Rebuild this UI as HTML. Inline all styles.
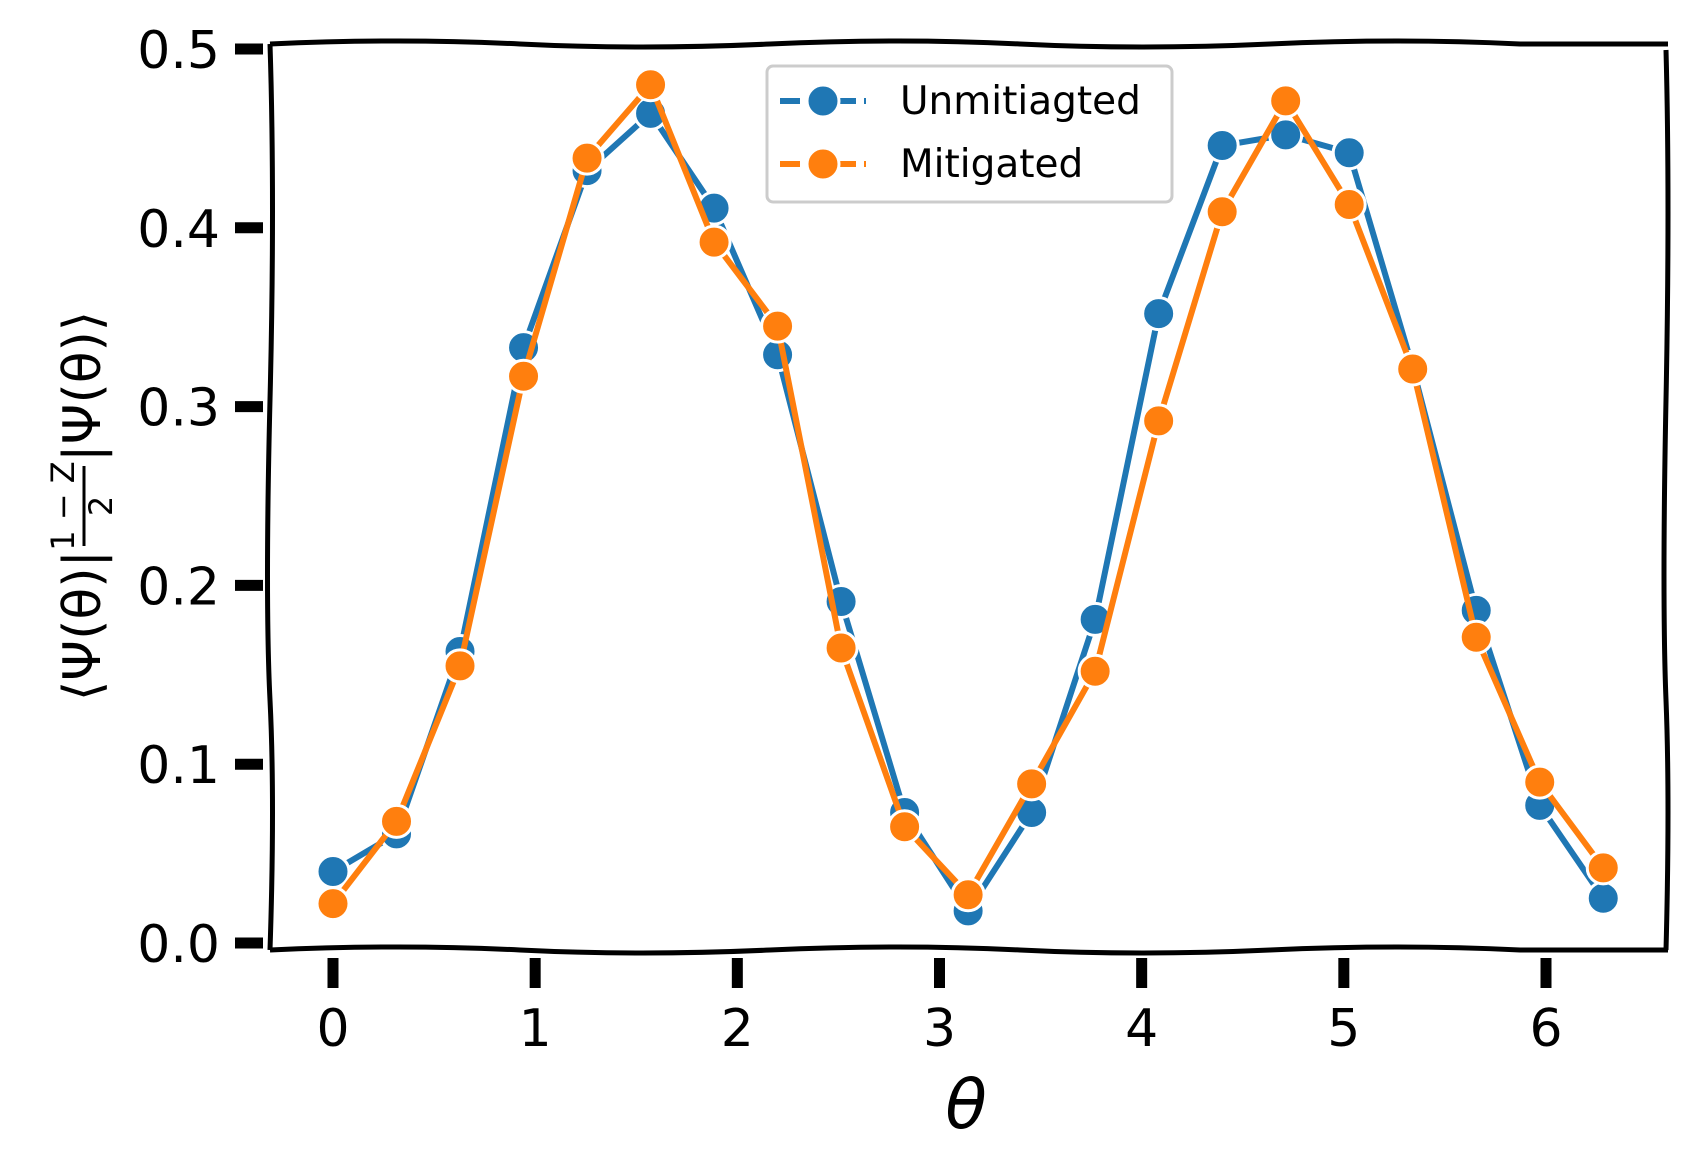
<!DOCTYPE html>
<html><head><meta charset="utf-8"><style>
body{margin:0;background:#fff}
svg{display:block}
text{font-family:"DejaVu Sans","Liberation Sans",sans-serif}
</style></head><body>
<svg id="chart" width="1695" height="1175" viewBox="0 0 1695 1175" xmlns="http://www.w3.org/2000/svg">
<g id="series"></g>
<path d="M270 44 Q 400 38 520 44 T 770 44 T 1020 44 T 1270 44 T 1520 44 L1668 44" fill="none" stroke="#000" stroke-width="5"/>
<path d="M270 950 Q 400 944 520 950 T 770 950 T 1020 950 T 1270 950 T 1520 950 L1668 950" fill="none" stroke="#000" stroke-width="5"/>
<path d="M270 44 Q 275 200 270 400 T 270 700 T 270 950" fill="none" stroke="#000" stroke-width="5"/>
<path d="M1666 50 Q 1670 200 1666 400 T 1666 700 T 1666 950" fill="none" stroke="#000" stroke-width="5"/>
<g id="axes"></g>
<g>
<rect x="767" y="66" width="405" height="136" rx="6" fill="#fff" fill-opacity="0.8" stroke="#ccc" stroke-width="3"/>
<g>
<line x1="780" y1="101" x2="866" y2="101" stroke="#1f77b4" stroke-width="6" stroke-dasharray="20,8"/>
<circle cx="823" cy="101" r="16" fill="#1f77b4" stroke="#fff" stroke-width="3"/>
<text x="900" y="114" font-size="39" fill="#000">Unmitiagted</text>
</g>
<g>
<line x1="780" y1="164" x2="866" y2="164" stroke="#ff7f0e" stroke-width="6" stroke-dasharray="20,8"/>
<circle cx="823" cy="164" r="16" fill="#ff7f0e" stroke="#fff" stroke-width="3"/>
<text x="900" y="177" font-size="39" fill="#000">Mitigated</text>
</g>
</g>
<text x="966" y="1128" font-size="68" font-style="italic" text-anchor="middle" font-family="DejaVu Serif, serif">θ</text>
<g transform="translate(100,500) rotate(-90)">
<text x="-50" y="0" font-size="52" text-anchor="end">⟨Ψ(θ)|</text>
<text x="-6" y="-26" font-size="32" text-anchor="middle">1 − Z</text>
<line x1="-46" y1="-16" x2="34" y2="-16" stroke="#000" stroke-width="3"/>
<text x="-6" y="12" font-size="32" text-anchor="middle">2</text>
<text x="38" y="0" font-size="52" text-anchor="start">|Ψ(θ)⟩</text>
</g>
</svg>
<script>
const thetaCount = 21;
const unmitigated = [0.040,0.061,0.163,0.333,0.432,0.464,0.411,0.329,0.191,0.073,0.018,0.073,0.181,0.352,0.446,0.452,0.442,0.322,0.186,0.077,0.025];
const mitigated = [0.022,0.068,0.155,0.317,0.439,0.480,0.392,0.345,0.165,0.065,0.027,0.089,0.152,0.292,0.409,0.471,0.413,0.321,0.171,0.090,0.042];
const xTicks = [0,1,2,3,4,5,6];
const yTicks = [0.0,0.1,0.2,0.3,0.4,0.5];
const NS = 'http://www.w3.org/2000/svg';
function xs(t){return 333 + t*(1546-333)/6;}
function ys(v){return 943 - v*(943-49)/0.5;}
function mk(tag, attrs, parent){const e=document.createElementNS(NS,tag);for(const k in attrs)e.setAttribute(k,attrs[k]);parent.appendChild(e);return e;}
const axes=document.getElementById('axes');
xTicks.forEach(t=>{
  const l=mk('line',{x1:xs(t),y1:958,x2:xs(t),y2:988,stroke:'#000','stroke-width':11},axes);
  
  
  const tx=mk('text',{x:xs(t),y:1046,'font-size':52,'text-anchor':'middle'},axes);
  tx.textContent=String(t);
  
  
});
yTicks.forEach(v=>{
  const l=mk('line',{x1:235,y1:ys(v),x2:263,y2:ys(v),stroke:'#000','stroke-width':11},axes);
  
  
  const tx=mk('text',{x:220,y:ys(v)+19,'font-size':52,'text-anchor':'end'},axes);
  tx.textContent=v.toFixed(1);
  
  
});
const ser=document.getElementById('series');
function draw(vals,color,name){
  const g=mk('g',{},ser);
  
  
  const th=vals.map((_,i)=>i*2*Math.PI/(thetaCount-1));
  const d=vals.map((v,i)=>(i?'L':'M')+xs(th[i]).toFixed(1)+' '+ys(v).toFixed(1)).join(' ');
  const p=mk('path',{d:d,fill:'none',stroke:color,'stroke-width':6,'stroke-linejoin':'round'},g);
  
  
  vals.forEach((v,i)=>{
    const c=mk('circle',{cx:xs(th[i]),cy:ys(v),r:16,fill:color,stroke:'#fff','stroke-width':3},g);
    
    
  });
}
draw(unmitigated,'#1f77b4','unmitigated');
draw(mitigated,'#ff7f0e','mitigated');
</script>
</body></html>
